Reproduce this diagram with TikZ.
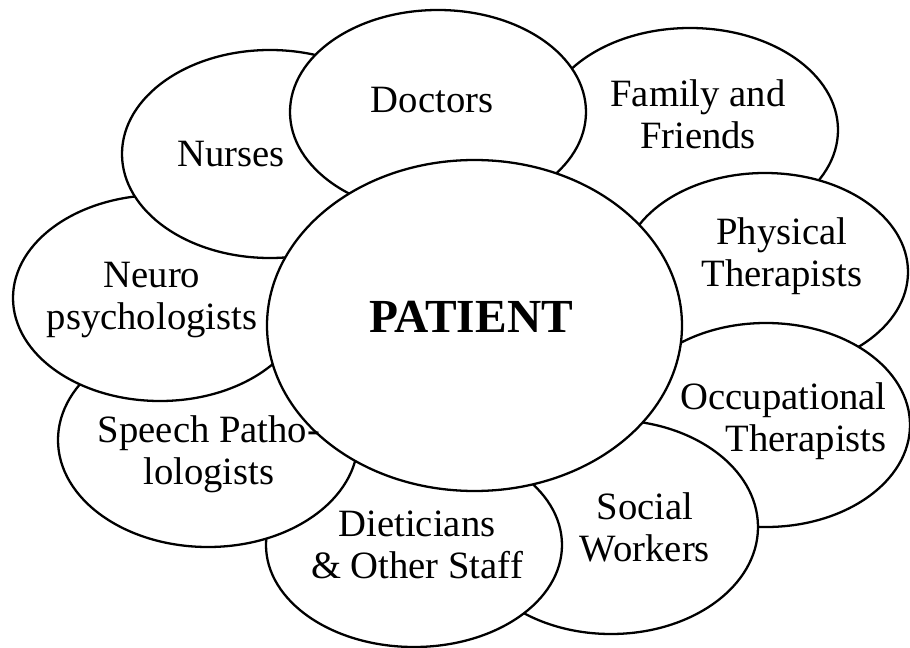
\documentclass[tikz,border=0pt]{standalone}
\usepackage{fontspec}
\setmainfont{Liberation Serif}
\usepackage{tikz}
\tikzstyle{petal}=[draw=black, fill=white, line width=1.3pt]
\tikzstyle{role}=[font=\fontsize{22}{24}\selectfont, align=center, inner sep=0pt]
\tikzstyle{centre}=[font=\fontsize{27}{29}\selectfont\bfseries, inner sep=0pt]

\begin{document}
\begin{tikzpicture}

  \useasboundingbox (0,0) rectangle (18.2,-12.96);

  % ring of helpers, back ones first
  \foreach \x/\y/\rx/\ry in { 13.8/-2.6/2.96/2.04, 15.3/-5.44/2.86/1.98,
        15.32/-8.5/2.88/2.04, 12.22/-10.54/2.94/2.14, 8.28/-10.9/2.96/2.04,
        4.16/-8.8/3.0/2.14, 3.2/-5.96/2.94/2.06, 5.4/-3.08/2.96/2.08,
        8.76/-2.24/2.96/2.04 }
     \draw[petal] (\x,\y) ellipse [x radius=\rx, y radius=\ry];

  % the patient on top
  \draw[petal] (9.49,-6.51) ellipse [x radius=4.15, y radius=3.31];

  \foreach \tx/\ty/\name/\txt in {
      13.96/-2.28/family/{Family and\\Friends},
      15.64/-5.12/physical/{Physical\\Therapists},
      12.9/-10.55/social/{Social\\Workers},
      8.34/-10.89/dieticians/{Dieticians\\\& Other Staff},
      4.18/-9.08/speech/{Speech Patho-\\lologists},
      3.04/-6.0/neuro/{Neuro\\psychologists},
      4.62/-3.08/nurses/{Nurses},
      8.74/-2.0/doctors/{Doctors} }
     \node[role] (\name) at (\tx,\ty) {\txt};

  \node[role, align=right, anchor=east] (occupational) at (17.74,-8.43) {Occupational\\Therapists};
  \node[centre] (patient) at (9.42,-6.34) {PATIENT};

\end{tikzpicture}
\end{document}
